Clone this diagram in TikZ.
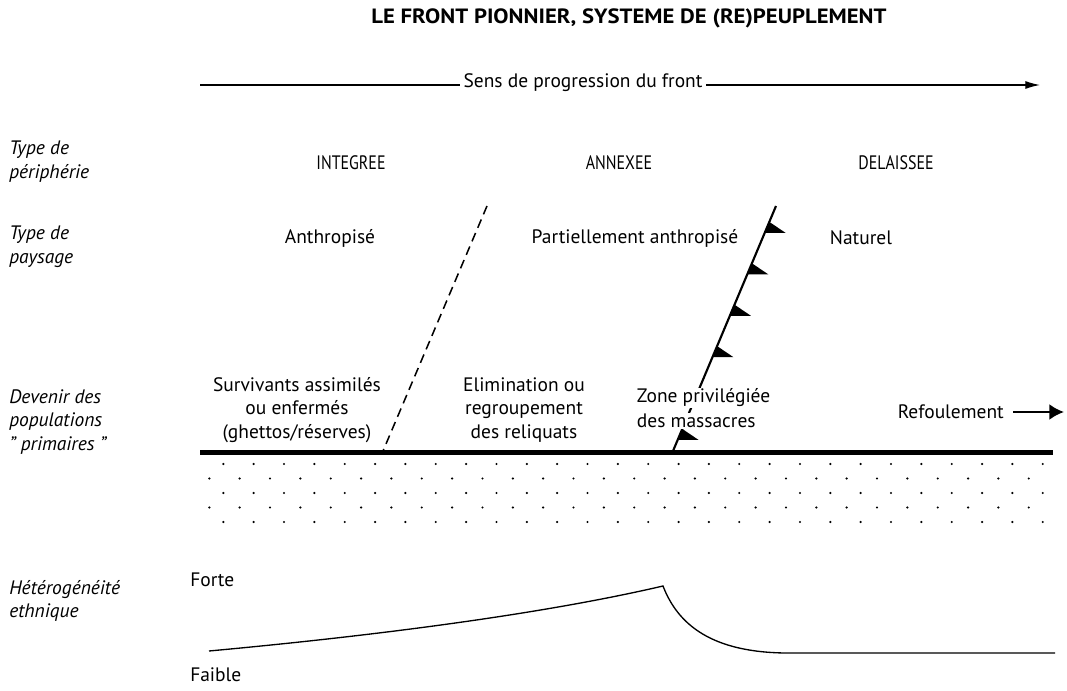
\documentclass[tikz,border=0pt]{standalone}
\usepackage{fontspec}
\setmainfont{PT Sans}
\newfontfamily\titlefont[FakeStretch=1.1]{PT Sans}
\newfontfamily\capsfont[FakeStretch=0.82]{PT Sans}
\usetikzlibrary{calc,arrows.meta}
\begin{document}
\begin{tikzpicture}[x=0.75pt,y=-0.75pt,
  base/.style={font=\fontsize{14.6}{17.4}\selectfont, inner sep=0pt},
  rowlabel/.style={base, font=\fontsize{14.6}{17.8}\selectfont\itshape, align=left, anchor=west},
  colhead/.style={base},
  capshead/.style={base, font=\fontsize{14.6}{17.4}\selectfont\capsfont},
  body/.style={base, align=center},
  mask/.style={fill=white, inner sep=1.5pt},
  thin/.style={line width=0.9pt},
  front/.style={line width=1.6pt},
  limit/.style={line width=1.15pt, dash pattern=on 6.8pt off 4.2pt},
  tooth/.style={fill=black, draw=none},
  dotc/.style={fill=black, draw=none}]
\useasboundingbox (0,0) rectangle (1067,691);

% title
\node[base, font=\fontsize{15.5}{18}\selectfont\titlefont\bfseries] (title) at (629,18) {LE FRONT PIONNIER, SYSTEME DE (RE)PEUPLEMENT};

% direction arrow
\coordinate (sL) at (200,85);
\coordinate (sR) at (1040,85);
\draw[thin, -{Latex[length=11pt,width=6pt]}] (sL) -- (sR);
\node[colhead, mask, inner sep=3pt] (sens) at (583,83) {Sens de progression du front};

% row labels
\node[rowlabel] (rperi) at (9,162) {Type de\\périphérie};
\node[rowlabel] (rpays) at (9,247) {Type de\\paysage};
\node[rowlabel] (rpop) at (9,422) {Devenir des\\populations\\\symbol{34} primaires \symbol{34}};
\node[rowlabel] (rhet) at (9,601) {Hétérogénéité\\ethnique};

% column heads
\node[capshead] (cint) at (351,163) {INTEGREE};
\node[capshead] (cann) at (619,163) {ANNEXEE};
\node[capshead] (cdel) at (896,163) {DELAISSEE};
\node[colhead] (pant) at (330,238) {Anthropisé};
\node[colhead] (ppart) at (635,238) {Partiellement anthropisé};
\node[colhead] (pnat) at (861,238) {Naturel};

% dashed limit
\coordinate (dT) at (487,206);
\coordinate (dB) at (383,451);
\draw[limit] (dT) -- (dB);

% front line with teeth
\coordinate (fT) at (776,206);
\coordinate (fB) at (673,451);
\draw[front] (fT) -- (fB);
\foreach \t in {0.045,0.214,0.383,0.552,0.721,0.890}{
  \fill[tooth] ($(fB)!\t!(fT)$) -- ($(fB)!\t!(fT)!9pt!(fT)$) -- ($(fB)!\t!(fT)+(21,0)$) -- cycle;
}

% population texts
\node[body] (surv) at (297,410) {Survivants assimilés\\ou enfermés\\(ghettos/réserves)};
\node[body] (elim) at (524,410) {Elimination ou\\regroupement\\des reliquats};
\node[base, mask, inner sep=0.5pt, anchor=west] (zone1) at (636,398) {Zone privilégiée};
\node[base, mask, inner sep=0.5pt, anchor=west] (zone2) at (636,421) {des massacres};
\node[base, anchor=east] (refoul) at (1004,412) {Refoulement};
\coordinate (rA) at (1013,412);
\coordinate (rB) at (1064,412);
\draw[line width=1.95pt, -{Latex[length=11pt,width=12pt]}] (rA) -- (rB);

% ground line
\coordinate (gL) at (200,452);
\coordinate (gR) at (1053,452);
\draw[line width=3.75pt] (gL) -- (gR);

% dots
\foreach \r/\y in {0/464,1/478.5,2/493,3/507.5,4/522}{
  \pgfmathsetmacro{\xo}{mod(\r,2)==0 ? 223.3 : 209.3}
  \foreach \k in {0,...,27}{
    \fill[dotc] (\xo+30.35*\k,\y) circle (0.9pt);
  }
}

% heterogeneity curve
\node[base, anchor=west] (forte) at (190,580) {Forte};
\node[base, anchor=west] (faible) at (190,675) {Faible};
\coordinate (c0) at (209,651);
\coordinate (cP) at (663,586);
\coordinate (c1) at (785,653);
\coordinate (c2) at (1055,653);
\draw[line width=1pt, line join=miter] (c0) .. controls (350,638) and (530,617) .. (cP)
  .. controls (678,625) and (712,652) .. (c1) -- (c2);
\end{tikzpicture}
\end{document}
